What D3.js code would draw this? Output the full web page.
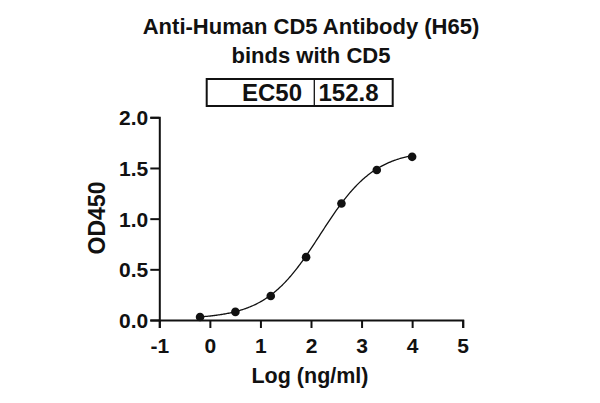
<!DOCTYPE html>
<html><head><meta charset="utf-8">
<script src="https://cdn.jsdelivr.net/npm/d3@7"></script>
<style>body{margin:0;background:#fff}svg{display:block}text{font-family:Arial,"Liberation Sans",sans-serif;font-weight:bold;fill:#111}</style>
</head><body>
<script>
const logConc = [-0.194, 0.505, 1.204, 1.903, 2.602, 3.301, 4.0];
const od450 = [0.03, 0.08, 0.237, 0.62, 1.15, 1.48, 1.61];
const xTicks = [-1, 0, 1, 2, 3, 4, 5];
const yTicks = [0, 0.5, 1.0, 1.5, 2.0];
const titleLines = ["Anti-Human CD5 Antibody (H65)", "binds with CD5"];
const ec50Label = "EC50";
const ec50Value = 152.8;
// 4PL fit parameters
const fitBottom = 0.01, fitTop = 1.68, fitHill = 0.8;

const W = 600, H = 403;
const svg = d3.select("body").append("svg").attr("width", W).attr("height", H);
const x = d3.scaleLinear().domain([-1, 5]).range([159.3, 462.7]);
const y = d3.scaleLinear().domain([0, 2]).range([320, 117.3]);

// title
svg.selectAll(".title").data(titleLines).join("text")
  .attr("x", 311).attr("y", (d, i) => 33.5 + i * 29)
  .attr("text-anchor", "middle").attr("font-size", 22).text(d => d);

// EC50 box
const bx0 = 206.7, bx1 = 392.7, bdiv = 314.3, by0 = 79, by1 = 106;
svg.append("rect").attr("x", bx0).attr("y", by0).attr("width", bx1 - bx0).attr("height", by1 - by0)
  .attr("fill", "none").attr("stroke", "#111").attr("stroke-width", 2);
svg.append("line").attr("x1", bdiv).attr("x2", bdiv).attr("y1", by0).attr("y2", by1)
  .attr("stroke", "#111").attr("stroke-width", 1.3);
svg.append("text").attr("x", 302).attr("y", 100.5).attr("text-anchor", "end").attr("font-size", 24).text(ec50Label);
svg.append("text").attr("x", 318.5).attr("y", 100.5).attr("font-size", 24).text(ec50Value);

// axes
const xAxis = svg.append("g").attr("transform", `translate(0,${y(0)})`)
  .call(d3.axisBottom(x).tickValues(xTicks).tickSize(8).tickPadding(10).tickFormat(d => String(d)));
const yAxis = svg.append("g").attr("transform", `translate(${x(-1)},0)`)
  .call(d3.axisLeft(y).tickValues(yTicks).tickSize(9).tickPadding(2).tickFormat(d => d.toFixed(1)));
[xAxis, yAxis].forEach(g => {
  g.select(".domain").attr("stroke", "#111").attr("stroke-width", 2);
  g.selectAll(".tick line").attr("stroke", "#111").attr("stroke-width", 2);
  g.selectAll(".tick text").attr("font-size", 21).attr("font-family", "Arial, 'Liberation Sans', sans-serif").attr("font-weight", "bold").attr("fill", "#111");
});
xAxis.selectAll(".tick text").attr("dy", "0.71em");
yAxis.selectAll(".tick text").attr("dy", "0.36em");

// axis labels
svg.append("text").attr("x", 310).attr("y", 383).attr("text-anchor", "middle").attr("font-size", 21.5).text("Log (ng/ml)");
svg.append("text").attr("transform", "translate(105,218) rotate(-90)").attr("text-anchor", "middle").attr("font-size", 23).text("OD450");

// fitted curve
const logEC50 = Math.log10(ec50Value);
const f = v => fitBottom + (fitTop - fitBottom) / (1 + Math.pow(10, (logEC50 - v) * fitHill));
const xs = d3.range(logConc[0], logConc[logConc.length - 1] + 0.001, 0.02);
svg.append("path").datum(xs).attr("fill", "none").attr("stroke", "#111").attr("stroke-width", 1.3)
  .attr("d", d3.line().x(d => x(d)).y(d => y(f(d))));

// points
svg.selectAll(".pt").data(logConc).join("circle")
  .attr("cx", d => x(d)).attr("cy", (d, i) => y(od450[i])).attr("r", 4.3).attr("fill", "#111");
</script>
</body></html>
